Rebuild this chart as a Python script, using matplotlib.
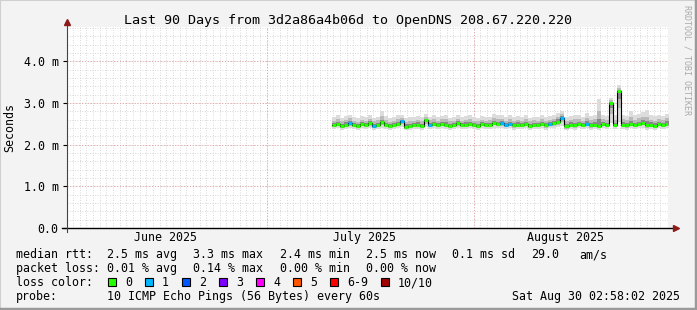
import numpy as np
import matplotlib.pyplot as plt
from matplotlib.patches import Rectangle

W, H = 697, 310

# data: median rtt and smoke range (ms), one sample every 0.6 day from day 39.7
t0, dt = 39.7, 0.6
median = [2.47, 2.50, 2.45, 2.48, 2.52, 2.46, 2.44, 2.49, 2.47, 2.51,
          2.45, 2.48, 2.53, 2.46, 2.44, 2.47, 2.50, 2.56, 2.43, 2.45,
          2.46, 2.48, 2.45, 2.58, 2.47, 2.49, 2.46, 2.50, 2.48, 2.45,
          2.47, 2.51, 2.46, 2.48, 2.50, 2.47, 2.45, 2.49, 2.46, 2.48,
          2.52, 2.49, 2.51, 2.47, 2.50, 2.46, 2.48, 2.47, 2.49, 2.45,
          2.48, 2.47, 2.50, 2.46, 2.49, 2.51, 2.55, 2.64, 2.44, 2.48,
          2.46, 2.49, 2.47, 2.50, 2.46, 2.48, 2.45, 2.49, 2.47, 3.00,
          2.47, 3.28, 2.48, 2.46, 2.50, 2.47, 2.49, 2.52, 2.46, 2.48,
          2.45, 2.49, 2.47, 2.50]
smoke_hi = [2.66, 2.70, 2.64, 2.68, 2.72, 2.66, 2.63, 2.69, 2.65, 2.71,
            2.64, 2.67, 2.80, 2.68, 2.63, 2.66, 2.70, 2.72, 2.64, 2.66,
            2.65, 2.69, 2.66, 2.74, 2.67, 2.70, 2.65, 2.69, 2.71, 2.64,
            2.66, 2.70, 2.65, 2.68, 2.71, 2.66, 2.64, 2.69, 2.65, 2.67,
            2.74, 2.70, 2.72, 2.66, 2.71, 2.65, 2.68, 2.66, 2.70, 2.64,
            2.67, 2.66, 2.70, 2.65, 2.69, 2.72, 2.76, 2.80, 2.66, 2.68,
            2.72, 2.70, 2.66, 2.75, 2.68, 2.72, 3.10, 2.70, 2.69, 3.12,
            2.70, 3.43, 2.72, 2.68, 2.80, 2.70, 2.74, 2.78, 2.84, 2.70,
            2.68, 2.72, 2.69, 2.74]
smoke_lo = [2.38, 2.39, 2.36, 2.38, 2.40, 2.37, 2.35, 2.39, 2.37, 2.40,
            2.36, 2.38, 2.41, 2.37, 2.35, 2.37, 2.39, 2.42, 2.34, 2.36,
            2.37, 2.38, 2.36, 2.43, 2.37, 2.39, 2.37, 2.40, 2.38, 2.36,
            2.37, 2.40, 2.37, 2.38, 2.40, 2.37, 2.36, 2.39, 2.37, 2.38,
            2.41, 2.39, 2.40, 2.37, 2.39, 2.36, 2.38, 2.37, 2.39, 2.36,
            2.38, 2.37, 2.39, 2.36, 2.39, 2.40, 2.42, 2.44, 2.34, 2.38,
            2.36, 2.39, 2.37, 2.40, 2.36, 2.38, 2.36, 2.39, 2.37, 2.52,
            2.37, 2.55, 2.38, 2.36, 2.39, 2.37, 2.39, 2.41, 2.36, 2.38,
            2.35, 2.39, 2.37, 2.40]
loss = [0, 0, 0, 0, 1, 0, 0, 0, 0, 0,
        1, 0, 0, 0, 0, 0, 0, 1, 0, 0,
        0, 0, 0, 0, 1, 0, 0, 0, 0, 0,
        0, 0, 0, 0, 0, 0, 0, 0, 0, 0,
        0, 0, 1, 1, 1, 0, 0, 0, 0, 0,
        0, 0, 0, 0, 1, 0, 0, 1, 0, 0,
        0, 0, 0, 1, 0, 0, 0, 0, 0, 0,
        0, 0, 0, 0, 0, 0, 0, 0, 0, 0,
        0, 0, 0, 0]

loss_labels = ['0', '1', '2', '3', '4', '5', '6-9', '10/10']
loss_colors = ['#26ff00', '#00b8ff', '#0059ff', '#7e00ff', '#ff00ff',
               '#ff5500', '#ff0000', '#a10000']

month_labels = ['June 2025', 'July 2025', 'August 2025']
month_pos = [14.8, 44.6, 74.6]
month_starts = [29.88, 60.88]
yticks = [0, 1, 2, 3, 4]
ytick_labels = ['0.0', '1.0 m', '2.0 m', '3.0 m', '4.0 m']

mono = 'DejaVu Sans Mono'
fig = plt.figure(figsize=(W / 100, H / 100), dpi=100, facecolor='#f3f3f3')

def fx(px):
    return px / W

def fy(py):
    return 1 - py / H

# frame around the figure
fig.patches.append(Rectangle((0, 0), 1, 1, transform=fig.transFigure, fill=False,
                             edgecolor='#cfcfcf', lw=1.5))
fig.add_artist(plt.Line2D([fx(695.5), fx(695.5)], [0, 1], color='#9a9a9a', lw=2.5))
fig.add_artist(plt.Line2D([0, 1], [fy(308.5), fy(308.5)], color='#9a9a9a', lw=2.5))

ax = fig.add_axes([fx(67), fy(228), fx(668) - fx(67), (228 - 27) / H])
ax.set_facecolor('white')
ax.set_xlim(0, 90)
ax.set_ylim(0, 4.82)
for s in ax.spines.values():
    s.set_visible(False)

# grid
for d in range(1, 90):
    ax.axvline(d - 0.124, color='#cccccc', lw=0.6, ls=(0, (1, 2)), zorder=0)
for v in np.arange(0.2, 4.81, 0.2):
    ax.axhline(v, color='#cccccc', lw=0.6, ls=(0, (1, 2)), zorder=0)
for m in month_starts:
    ax.axvline(m, color='#e8a0a0', lw=0.7, ls=(0, (1, 2)), zorder=0.5)
for v in yticks[1:]:
    ax.axhline(v, color='#e8a0a0', lw=0.7, ls=(0, (1, 2)), zorder=0.5)

# smoke
n = len(median)
tx = t0 + dt * np.arange(n + 1)
med = np.array(median)
hi = np.array(smoke_hi)
lo = np.array(smoke_lo)
bands = [(1.0, '#dcdcdc'), (0.55, '#bababa'), (0.25, '#888888')]
for frac, col in bands:
    top = med + frac * (hi - med)
    bot = med - frac * (med - lo)
    ax.fill_between(tx, np.append(bot, bot[-1]), np.append(top, top[-1]),
                    step='post', color=col, lw=0, zorder=1)

# median line
ax.step(tx, np.append(med, med[-1]), where='post', color='black', lw=0.8, zorder=2)
for i in range(n):
    ax.hlines(med[i], tx[i], tx[i + 1], color=loss_colors[loss[i]], lw=2.2, zorder=3)

# axes lines and arrows
ax.plot([-0.8, 91], [0, 0], color='black', lw=1, clip_on=False, zorder=4)
ax.plot([0, 0], [-0.1, 4.9], color='#444444', lw=0.8, clip_on=False, zorder=4)
ax.plot([91.2], [0], marker='>', color='#8b1a1a', ms=5, clip_on=False, zorder=5)
ax.plot([0], [4.95], marker='^', color='#8b1a1a', ms=5, clip_on=False, zorder=5)

ax.set_xticks(month_pos)
ax.set_xticklabels(month_labels, fontfamily=mono, fontsize=8.4)
ax.tick_params(axis='x', length=0, pad=2.5)
ax.set_yticks(yticks)
ax.set_yticklabels(ytick_labels, fontfamily=mono, fontsize=8.4)
ax.tick_params(axis='y', length=3, pad=3)

fig.text(fx(10), fy(127), 'Seconds', rotation=90, ha='center', va='center',
         fontfamily=mono, fontsize=8.4)
fig.text(fx(348), fy(24), 'Last 90 Days from 3d2a86a4b06d to OpenDNS 208.67.220.220',
         ha='center', va='baseline', fontfamily=mono, fontsize=9.6)
fig.text(fx(687), fy(5), 'RRDTOOL / TOBI OETIKER', rotation=270, ha='center', va='top',
         fontfamily=mono, fontsize=6, color='#aaaaaa')

# legend rows
rtt = ['median rtt:', '2.5 ms avg', '3.3 ms max', '2.4 ms min', '2.5 ms now',
       '0.1 ms sd', '29.0', 'am/s']
rtt_x = [16, 107, 193, 280, 366, 452, 531, 579]
pl = ['packet loss:', '0.01 % avg', '0.14 % max', '0.00 % min', '0.00 % now']
pl_x = [16, 107, 193, 280, 366]
for txt, x in zip(rtt, rtt_x):
    fig.text(fx(x), fy(258), txt, va='baseline', fontfamily=mono, fontsize=8.4)
for txt, x in zip(pl, pl_x):
    fig.text(fx(x), fy(272), txt, va='baseline', fontfamily=mono, fontsize=8.4)

fig.text(fx(16), fy(286), 'loss color:', va='baseline', fontfamily=mono, fontsize=8.4)
box_x = [108, 145, 182, 219, 256, 293, 330, 381]
for lab, col, x in zip(loss_labels, loss_colors, box_x):
    fig.patches.append(Rectangle((fx(x), fy(285.5)), fx(8), 8 / H, transform=fig.transFigure,
                                 facecolor=col, edgecolor='black', lw=0.8))
    fig.text(fx(x + 17), fy(286), lab, va='baseline', fontfamily=mono, fontsize=8.4)

fig.text(fx(16), fy(300), 'probe:', va='baseline', fontfamily=mono, fontsize=8.4)
fig.text(fx(107), fy(300), '10 ICMP Echo Pings (56 Bytes) every 60s', va='baseline',
         fontfamily=mono, fontsize=8.4)
fig.text(fx(680), fy(300), 'Sat Aug 30 02:58:02 2025', ha='right', va='baseline',
         fontfamily=mono, fontsize=8.4)

fig.savefig('out.png', dpi=100, facecolor=fig.get_facecolor())
